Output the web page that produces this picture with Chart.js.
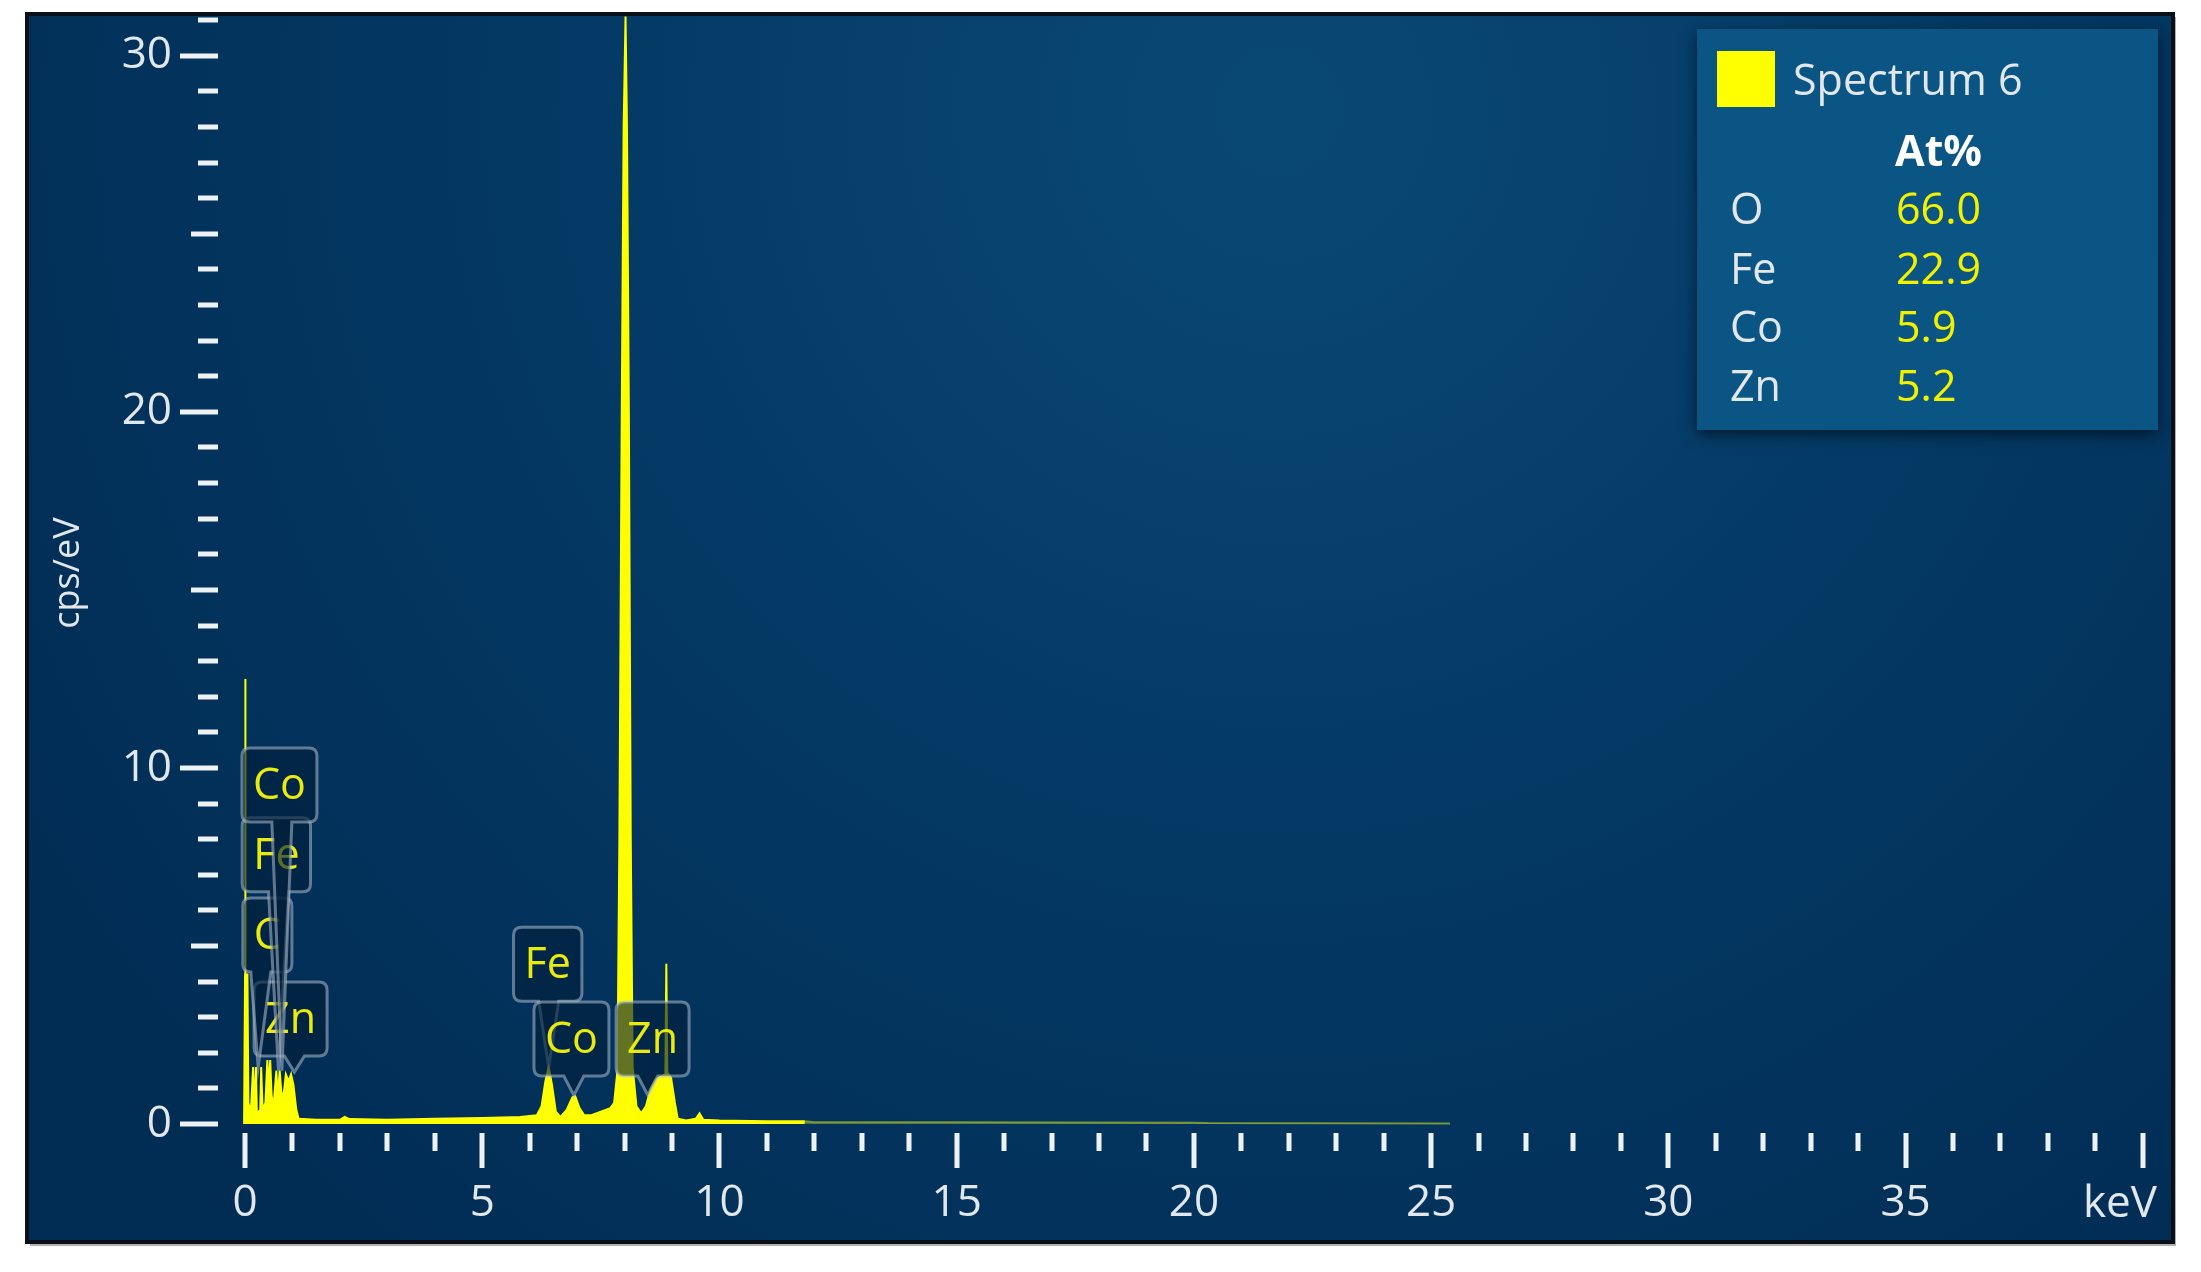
<!DOCTYPE html>
<html>
<head>
<meta charset="utf-8">
<title>Spectrum 6</title>
<script src="https://cdn.jsdelivr.net/npm/chart.js@4.4.0/dist/chart.umd.min.js"></script>
<style>
  html, body { margin: 0; padding: 0; background: #fff; }
  #wrap { width: 2201px; height: 1272px; position: relative; }
</style>
</head>
<body>
<div id="wrap"><canvas id="chartCanvas"></canvas></div>
<script>
// EDS spectrum, energy (keV) vs cps/eV
const energyKeV = [
  -0.02, 0.0, 0.005, 0.01, 0.05, 0.07, 0.12, 0.17, 0.19, 0.23, 0.25, 0.32, 0.34, 0.37,
  0.43, 0.47, 0.50, 0.53, 0.56, 0.60, 0.66, 0.69, 0.73, 0.77, 0.82, 0.86, 0.92, 0.97,
  1.02, 1.08, 1.13, 1.5, 2.0, 2.1, 2.2, 3.0, 4.0, 5.0, 5.8, 6.15,
  6.25, 6.33, 6.40, 6.47, 6.55, 6.65, 6.78, 6.90, 6.96, 7.05, 7.15, 7.30, 7.50, 7.70,
  7.78, 7.85, 7.89, 7.94, 7.98, 8.02, 8.05, 8.09, 8.13, 8.17, 8.25, 8.35, 8.45, 8.55,
  8.65, 8.78, 8.86, 8.88, 8.90, 8.98, 9.06, 9.12, 9.30, 9.50, 9.58, 9.66, 10.0, 11.0,
  11.8, 12.0, 15.0, 20.0, 20.3, 25.4
];
const countsCps = [
  0, 4.2, 12.5, 4.2, 4.2, 0.6, 0.3, 1.6, 0.3, 1.6, 0.3, 0.4, 1.6, 0.4,
  0.6, 1.8, 0.9, 1.8, 0.8, 0.5, 1.5, 0.7, 1.5, 0.8, 0.9, 1.4, 1.2, 1.4,
  1.1, 0.4, 0.15, 0.12, 0.12, 0.2, 0.14, 0.12, 0.15, 0.17, 0.2, 0.25,
  0.5, 1.2, 1.6, 1.1, 0.35, 0.2, 0.4, 0.75, 0.78, 0.45, 0.25, 0.25, 0.35, 0.45,
  0.6, 1.5, 8, 20, 28, 31.1, 28, 20, 8, 1.6, 0.5, 0.3, 0.5, 1.0,
  1.25, 1.35, 1.4, 4.5, 1.45, 1.3, 0.6, 0.15, 0.1, 0.15, 0.3, 0.12, 0.1, 0.08,
  0.08, 0.05, 0.05, 0.04, 0.03, 0.02
];

// axis ticks
const xTickValues = Array.from({ length: 41 }, (_, i) => i);
const xLabelValues = [0, 5, 10, 15, 20, 25, 30, 35];
const xLabelText = ['0', '5', '10', '15', '20', '25', '30', '35'];
const yTickValues = Array.from({ length: 32 }, (_, i) => i);
const yLabelValues = [0, 10, 20, 30];
const yLabelText = ['0', '10', '20', '30'];

// element markers on the peaks
const markerNames = ['Zn', 'C', 'Fe', 'Co', 'Fe', 'Co', 'Zn'];
const markerKeV = [0.96, 0.47, 0.66, 0.725, 6.38, 6.88, 8.59];
const markerTop = [3.99, 6.35, 8.6, 10.56, 5.53, 3.43, 3.43];
const markerTipKeV = [1.04, 0.277, 0.705, 0.776, 6.40, 6.93, 8.49];
const markerTipCps = [1.46, 1.6, 1.5, 1.5, 1.6, 0.81, 0.81];

// quantification table
const spectrumName = 'Spectrum 6';
const elements = ['O', 'Fe', 'Co', 'Zn'];
const atPercent = [66.0, 22.9, 5.9, 5.2];

const FONT = '"Open Sans", "Noto Sans", sans-serif';
const YELLOW = '#ffff00';
const LIGHT = '#e2e7ec';

const frameBg = {
  id: 'frameBg',
  beforeDraw(chart) {
    const c = chart.ctx;
    c.save();
    c.fillStyle = '#ffffff';
    c.fillRect(0, 0, chart.width, chart.height);
    c.fillStyle = '#b0b0b0';
    c.fillRect(30, 17, 2146, 1229);
    const g = c.createRadialGradient(1280, 110, 30, 1280, 110, 1500);
    g.addColorStop(0, '#0a4874');
    g.addColorStop(0.45, '#043a65');
    g.addColorStop(1, '#012c54');
    c.fillStyle = g;
    c.fillRect(27, 14, 2146, 1228);
    c.strokeStyle = '#0b1018';
    c.lineWidth = 4;
    c.strokeRect(27, 14, 2146, 1228);
    c.restore();
  }
};

const tickMarks = {
  id: 'tickMarks',
  afterDraw(chart) {
    const { ctx, scales: { x, y } } = chart;
    ctx.save();
    ctx.fillStyle = '#eef2f5';
    xTickValues.forEach(v => {
      const px = Math.round(x.getPixelForValue(v));
      const len = v % 5 === 0 ? 35 : 18;
      ctx.fillRect(px - 2.5, x.top, 5, len);
    });
    yTickValues.forEach(v => {
      const py = Math.round(y.getPixelForValue(v));
      const len = v % 10 === 0 ? 38 : (v % 5 === 0 ? 27 : 20);
      ctx.fillRect(y.right - len, py - 2.5, len, 5);
    });
    ctx.restore();
  }
};

const peakLabels = {
  id: 'peakLabels',
  afterDatasetsDraw(chart) {
    const { ctx, scales: { x, y } } = chart;
    ctx.save();
    ctx.font = '43px ' + FONT;
    markerNames.forEach((name, i) => {
      const w = ctx.measureText(name).width + 22;
      const h = 74;
      const cx = x.getPixelForValue(markerKeV[i]);
      const top = y.getPixelForValue(markerTop[i]);
      const left = cx - w / 2, right = cx + w / 2, bottom = top + h;
      const tx = x.getPixelForValue(markerTipKeV[i]);
      const ty = y.getPixelForValue(markerTipCps[i]);
      const hw = 10;
      const nb = Math.min(Math.max(tx, left + hw + 8), right - hw - 8);
      const r = 8;
      ctx.beginPath();
      ctx.moveTo(left + r, top);
      ctx.lineTo(right - r, top);
      ctx.quadraticCurveTo(right, top, right, top + r);
      ctx.lineTo(right, bottom - r);
      ctx.quadraticCurveTo(right, bottom, right - r, bottom);
      ctx.lineTo(nb + hw, bottom);
      ctx.lineTo(tx, ty);
      ctx.lineTo(nb - hw, bottom);
      ctx.lineTo(left + r, bottom);
      ctx.quadraticCurveTo(left, bottom, left, bottom - r);
      ctx.lineTo(left, top + r);
      ctx.quadraticCurveTo(left, top, left + r, top);
      ctx.closePath();
      ctx.fillStyle = 'rgba(2, 30, 58, 0.62)';
      ctx.fill();
      ctx.strokeStyle = 'rgba(175, 190, 205, 0.55)';
      ctx.lineWidth = 3;
      ctx.stroke();
      ctx.fillStyle = '#eaea10';
      ctx.textAlign = 'center';
      ctx.textBaseline = 'middle';
      ctx.fillText(name, cx, top + h / 2 + 2);
    });
    ctx.restore();
  }
};

const quantTable = {
  id: 'quantTable',
  afterDraw(chart) {
    const c = chart.ctx;
    c.save();
    c.shadowColor = 'rgba(0, 0, 0, 0.55)';
    c.shadowBlur = 14;
    c.shadowOffsetY = 5;
    c.fillStyle = '#0a5583';
    c.fillRect(1697, 29, 461, 401);
    c.shadowColor = 'transparent';
    c.fillStyle = YELLOW;
    c.fillRect(1717, 51, 58, 56);
    c.textBaseline = 'middle';
    c.textAlign = 'left';
    c.font = '43px ' + FONT;
    c.fillStyle = LIGHT;
    c.fillText(spectrumName, 1793, 83);
    c.font = 'bold 43px ' + FONT;
    c.fillStyle = '#ffffff';
    c.fillText('At%', 1895, 154);
    const rows = [212, 272, 330, 389];
    elements.forEach((el, i) => {
      c.font = '43px ' + FONT;
      c.fillStyle = LIGHT;
      c.fillText(el, 1730, rows[i]);
      c.fillStyle = '#f2f200';
      c.fillText(atPercent[i].toFixed(1), 1896, rows[i]);
    });
    c.restore();
  }
};

const ctx = document.getElementById('chartCanvas');
new Chart(ctx, {
  type: 'line',
  data: {
    datasets: [{
      label: spectrumName,
      data: energyKeV.map((e, i) => ({ x: e, y: countsCps[i] })),
      borderColor: YELLOW,
      backgroundColor: YELLOW,
      borderWidth: 2,
      fill: 'origin',
      pointRadius: 0,
      tension: 0,
      segment: {
        borderColor: c => c.p0.parsed.x >= 11.8 ? 'rgba(150, 175, 50, 0.75)' : YELLOW,
        backgroundColor: c => c.p0.parsed.x >= 11.8 ? 'rgba(150, 175, 50, 0.5)' : YELLOW
      }
    }]
  },
  options: {
    responsive: true,
    maintainAspectRatio: false,
    devicePixelRatio: 1,
    animation: false,
    layout: { padding: { left: 0, top: 13, right: 44, bottom: 0 } },
    plugins: { legend: { display: false }, tooltip: { enabled: false } },
    scales: {
      x: {
        type: 'linear',
        min: -0.57,
        max: 40.3,
        grid: { display: false, drawTicks: false },
        border: { display: false },
        afterBuildTicks: s => { s.ticks = xTickValues.map(v => ({ value: v })); },
        afterFit: s => { s.height = 139; s.paddingLeft = 0; s.paddingRight = 0; },
        ticks: {
          autoSkip: false,
          maxRotation: 0,
          minRotation: 0,
          padding: 44,
          color: LIGHT,
          font: { family: FONT, size: 44 },
          callback: v => { const k = xLabelValues.indexOf(v); return k < 0 ? '' : xLabelText[k]; }
        },
        title: {
          display: true,
          text: 'keV',
          align: 'end',
          color: LIGHT,
          font: { family: FONT, size: 44 },
          padding: { top: 0, bottom: 41 }
        }
      },
      y: {
        min: -0.25,
        max: 31.2,
        grid: { display: false, drawTicks: false },
        border: { display: false },
        afterBuildTicks: s => { s.ticks = yTickValues.map(v => ({ value: v })); },
        afterFit: s => { s.width = 218; s.paddingTop = 0; s.paddingBottom = 0; },
        ticks: {
          autoSkip: false,
          padding: 46,
          color: LIGHT,
          font: { family: FONT, size: 44 },
          callback: v => { const k = yLabelValues.indexOf(v); return k < 0 ? '' : yLabelText[k]; }
        },
        title: {
          display: true,
          text: 'cps/eV',
          color: LIGHT,
          font: { family: FONT, size: 36 },
          padding: { top: 47, bottom: 0 }
        }
      }
    }
  },
  plugins: [frameBg, tickMarks, peakLabels, quantTable]
});
</script>
</body>
</html>
